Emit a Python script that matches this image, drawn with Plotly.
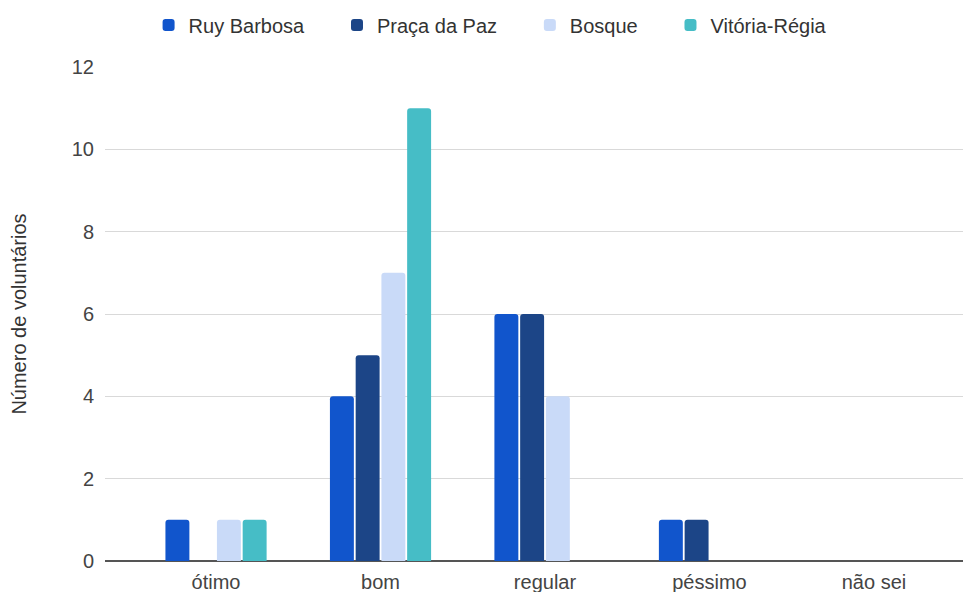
import plotly.graph_objects as go

categories = ["ótimo", "bom", "regular", "péssimo", "não sei"]
series_names = ["Ruy Barbosa", "Praça da Paz", "Bosque", "Vitória-Régia"]
ruy_barbosa = [1, 4, 6, 1, 0]
praca_da_paz = [0, 5, 6, 1, 0]
bosque = [1, 7, 4, 0, 0]
vitoria_regia = [1, 11, 0, 0, 0]
colors = ["#1155cc", "#1c4587", "#c9daf8", "#46bdc6"]
y_ticks = [0, 2, 4, 6, 8, 10, 12]

pad = "\u00a0" * 5
fig = go.Figure()
series_values = [ruy_barbosa, praca_da_paz, bosque, vitoria_regia]
for i, (name, vals, col) in enumerate(zip(series_names, series_values, colors)):
    label = name + (pad if i < len(series_names) - 1 else "")
    fig.add_trace(go.Bar(name=label, x=categories, y=vals, marker=dict(color=col, line=dict(width=0))))

fig.update_layout(
    width=971, height=592,
    margin=dict(l=97, r=8, t=59, b=39, autoexpand=False),
    paper_bgcolor="white", plot_bgcolor="white",
    barmode="group", bargap=0.374, bargroupgap=0.07,
    barcornerradius=3,
    font=dict(family="Arial, Liberation Sans, sans-serif", size=20, color="#444444"),
    legend=dict(orientation="h", x=0.497, xanchor="center", xref="container",
                y=1 - 17 / 592, yanchor="middle", yref="container",
                font=dict(size=20, color="#333333"), itemwidth=30, traceorder="normal"),
    xaxis=dict(range=[-0.675, 4.59], showgrid=False, ticks="outside", ticklen=3, tickcolor="white",
               tickfont=dict(size=20, color="#444444")),
    yaxis=dict(range=[0, 12], tickvals=y_ticks, showgrid=True, gridcolor="#d9d9d9", gridwidth=1,
               zeroline=True, zerolinecolor="#555555", zerolinewidth=1.5,
               ticks="outside", ticklen=6, tickcolor="white",
               tickfont=dict(size=20, color="#444444"),
               title=dict(text="Número de voluntários", font=dict(size=20, color="#333333"), standoff=40)),
)
fig.write_html("out.html")
